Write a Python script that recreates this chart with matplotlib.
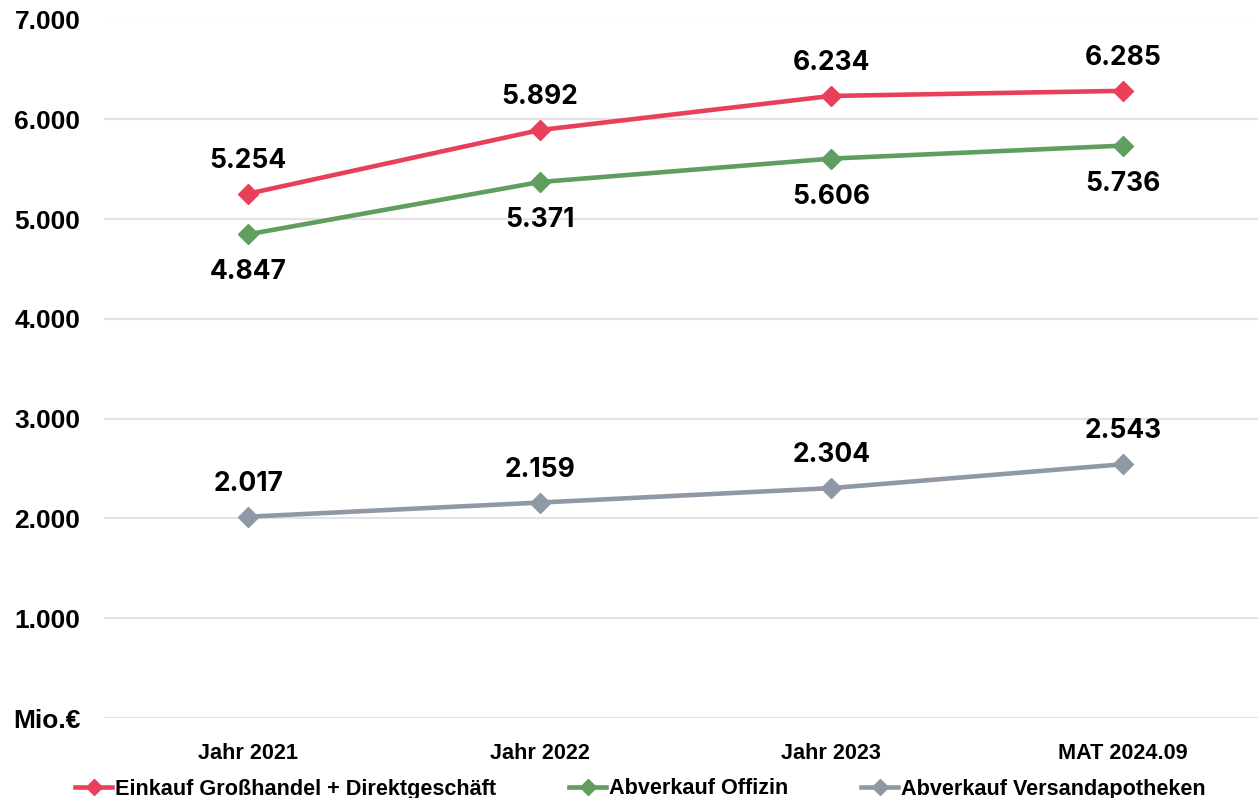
import matplotlib
matplotlib.use("Agg")
import matplotlib.pyplot as plt
from matplotlib.lines import Line2D

categories = ["Jahr 2021", "Jahr 2022", "Jahr 2023", "MAT 2024.09"]
einkauf = [5254, 5892, 6234, 6285]
offizin = [4847, 5371, 5606, 5736]
versand = [2017, 2159, 2304, 2543]
series_names = ["Einkauf Großhandel + Direktgeschäft", "Abverkauf Offizin", "Abverkauf Versandapotheken"]
ytick_vals = [0, 1000, 2000, 3000, 4000, 5000, 6000, 7000]
ytick_labels = ["Mio.€", "1.000", "2.000", "3.000", "4.000", "5.000", "6.000", "7.000"]

colors = ["#E8405A", "#5F9E5F", "#8E99A5"]
FONT = ["Liberation Sans", "DejaVu Sans"]
NUMFONT = ["Inter", "Liberation Sans", "DejaVu Sans"]
plt.rcParams["font.family"] = FONT
plt.rcParams["font.weight"] = "bold"

W, H = 1258, 798
fig = plt.figure(figsize=(W / 100, H / 100), dpi=100)
ax = fig.add_axes([104 / W, (H - 718) / H, (W - 104) / W, (718 - 19.5) / H])

x = list(range(len(categories)))
for vals, c, name, off in zip([einkauf, offizin, versand], colors, series_names, [33, -38, 33]):
    ax.plot(x, vals, color=c, lw=3.3, marker="D", markersize=10, label=name,
            solid_capstyle="round", zorder=3)
    for xi, v in zip(x, vals):
        lbl = f"{v:,}".replace(",", ".")
        ax.annotate(lbl, (xi, v), xytext=(0, off), textcoords="offset pixels",
                    ha="center", va="center", fontsize=19, fontweight="bold",
                    family=NUMFONT, color="black")

ax.set_xlim(-0.494, 3.463)
ax.set_ylim(0, 7000)
ax.set_yticks(ytick_vals)
ax.set_yticklabels(ytick_labels)
ax.set_xticks(x)
ax.set_xticklabels(categories)
ax.grid(axis="y", color="#E3E3E6", lw=1.5)
ax.set_axisbelow(True)
for s in ax.spines.values():
    s.set_visible(False)
ax.tick_params(axis="y", length=0, pad=17, labelsize=19)
ax.tick_params(axis="x", length=0, pad=18, labelsize=15.6)
for t in ax.get_yticklabels():
    t.set_fontweight("bold")
for t in ax.get_xticklabels():
    t.set_fontweight("bold")

fs = 15.6
em = fs * 100 / 72
handles = [Line2D([0], [0], color=c, lw=3.3, marker="D", markersize=8) for c in colors]
leg = fig.legend(handles, series_names, loc="center left", bbox_to_anchor=(75 / W, (H - 789) / H),
                 ncol=3, frameon=False, prop={"weight": "bold", "size": fs},
                 handlelength=37 / em, handletextpad=3 / em, columnspacing=73 / em,
                 borderpad=0, borderaxespad=0)

fig.savefig("out.png", dpi=100)
